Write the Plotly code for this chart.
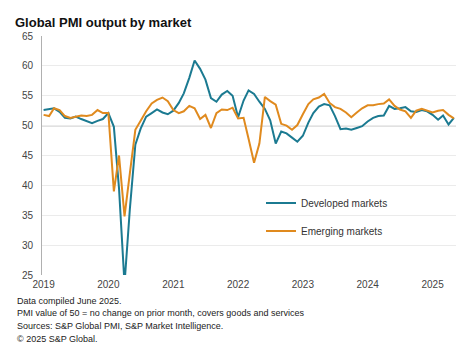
import pandas as pd
import plotly.graph_objects as go

TITLE = "Global PMI output by market"
MONTH_START = "2019-01-01"
N_MONTHS = 77  # Jan 2019 .. May 2025
months = pd.date_range(MONTH_START, periods=N_MONTHS, freq="MS")

developed = [
    52.6, 52.8, 52.9, 52.3, 51.3, 51.2, 51.5, 51.1, 50.8, 50.4, 50.8, 51.1,   # 2019
    52.1, 49.8, 39.5, 23.5, 36.0, 46.8, 49.5, 51.5, 52.1, 52.7, 52.2, 51.9,   # 2020
    52.5, 53.8, 55.4, 58.0, 60.9, 59.5, 57.7, 54.6, 54.0, 55.2, 55.8, 55.0,   # 2021
    51.4, 54.2, 55.9, 55.3, 54.0, 52.8, 50.9, 47.0, 49.0, 48.7, 48.0, 47.3,   # 2022
    48.3, 50.5, 52.1, 53.2, 53.6, 53.4, 51.6, 49.4, 49.5, 49.3, 49.6, 49.9,   # 2023
    50.7, 51.3, 51.6, 51.7, 53.3, 52.8, 52.9, 53.1, 52.4, 52.3, 52.6, 52.4,   # 2024
    51.8, 51.0, 51.7, 50.2, 51.3,                                             # 2025
]
emerging = [
    51.8, 51.6, 52.9, 52.6, 51.6, 51.3, 51.5, 51.7, 51.6, 51.8, 52.6, 52.1,   # 2019
    52.1, 39.0, 45.0, 34.8, 42.0, 49.3, 50.8, 52.4, 53.7, 54.3, 54.7, 54.1,   # 2020
    52.6, 52.1, 52.4, 53.3, 52.9, 51.1, 51.8, 49.6, 52.1, 52.7, 52.6, 53.0,   # 2021
    51.2, 51.3, 47.8, 43.8, 47.0, 54.8, 54.1, 53.5, 50.3, 50.0, 49.3, 50.1,   # 2022
    51.9, 53.6, 54.4, 54.7, 55.3, 53.8, 53.1, 52.8, 52.2, 51.4, 52.2, 52.9,   # 2023
    53.4, 53.4, 53.6, 53.7, 54.4, 53.3, 52.7, 52.4, 51.3, 52.5, 52.8, 52.5,   # 2024
    52.2, 52.5, 52.6, 51.8, 51.2,                                             # 2025
]
series_names = ["Developed markets", "Emerging markets"]
y_ticks = [25, 30, 35, 40, 45, 50, 55, 60, 65]
footnotes = [
    "Data compiled June 2025.",
    "PMI value of 50 = no change on prior month, covers goods and services",
    "Sources: S&P Global PMI, S&P Market Intelligence.",
    "\u00a9 2025 S&P Global.",
]

FONT = "Liberation Sans, Arial, sans-serif"
colors = ["#1b7a91", "#e08a1e"]

fig = go.Figure()
for i, (name, vals) in enumerate(zip(series_names, [developed, emerging])):
    fig.add_trace(go.Scatter(
        x=months, y=vals, mode="lines", name=name, legendgroup=name,
        line=dict(color=colors[i], width=2),
    ))

# PMI 50 reference line
fig.add_shape(type="line", xref="paper", x0=0, x1=1, yref="y", y0=50, y1=50,
              line=dict(color="#c4c4c4", width=1.5), layer="below")

L, R, T, B = 42, 17, 36, 87
W, H = 473, 362
plot_h = H - T - B

fig.update_layout(
    width=W, height=H,
    margin=dict(l=L, r=R, t=T, b=B),
    paper_bgcolor="white", plot_bgcolor="white",
    font=dict(family=FONT, size=10, color="#444"),
    title=dict(text="<b>" + TITLE + "</b>", x=15 / W, xref="container", xanchor="left",
               y=1 - 22 / H, yref="container", yanchor="middle",
               font=dict(family=FONT, size=13, color="#111")),
    showlegend=True,
    legend=dict(x=(261 - L) / (W - L - R), xanchor="left",
                y=(H - B - 188.5) / plot_h, yanchor="top",
                bgcolor="rgba(0,0,0,0)", font=dict(size=10, color="#333"),
                tracegroupgap=9),
    xaxis=dict(type="date", range=["2018-12-23", "2025-05-13"],
               tick0="2019-01-01", dtick="M12", tickformat="%Y",
               showgrid=False, zeroline=False, showline=False, ticks="",
               ticklabelstandoff=2,
               tickfont=dict(size=10, color="#444")),
    yaxis=dict(range=[25, 65], tickvals=y_ticks, showgrid=True, gridcolor="#ebebeb",
               gridwidth=1, zeroline=False, showline=True, linecolor="#b0b0b0",
               linewidth=1, ticks="", ticklabelstandoff=6,
               tickfont=dict(size=10, color="#444")),
)

for k, txt in enumerate(footnotes):
    ypix = 300.7 + k * 12.7
    fig.add_annotation(text=txt, xref="paper", x=(15 - L) / (W - L - R), xanchor="left",
                       yref="paper", y=(H - B - ypix) / plot_h, yanchor="middle",
                       showarrow=False, font=dict(family=FONT, size=9, color="#222"))

fig.write_html("out.html", config={"displayModeBar": False},
               post_script="document.body.style.margin='0';document.body.style.padding='0';")
